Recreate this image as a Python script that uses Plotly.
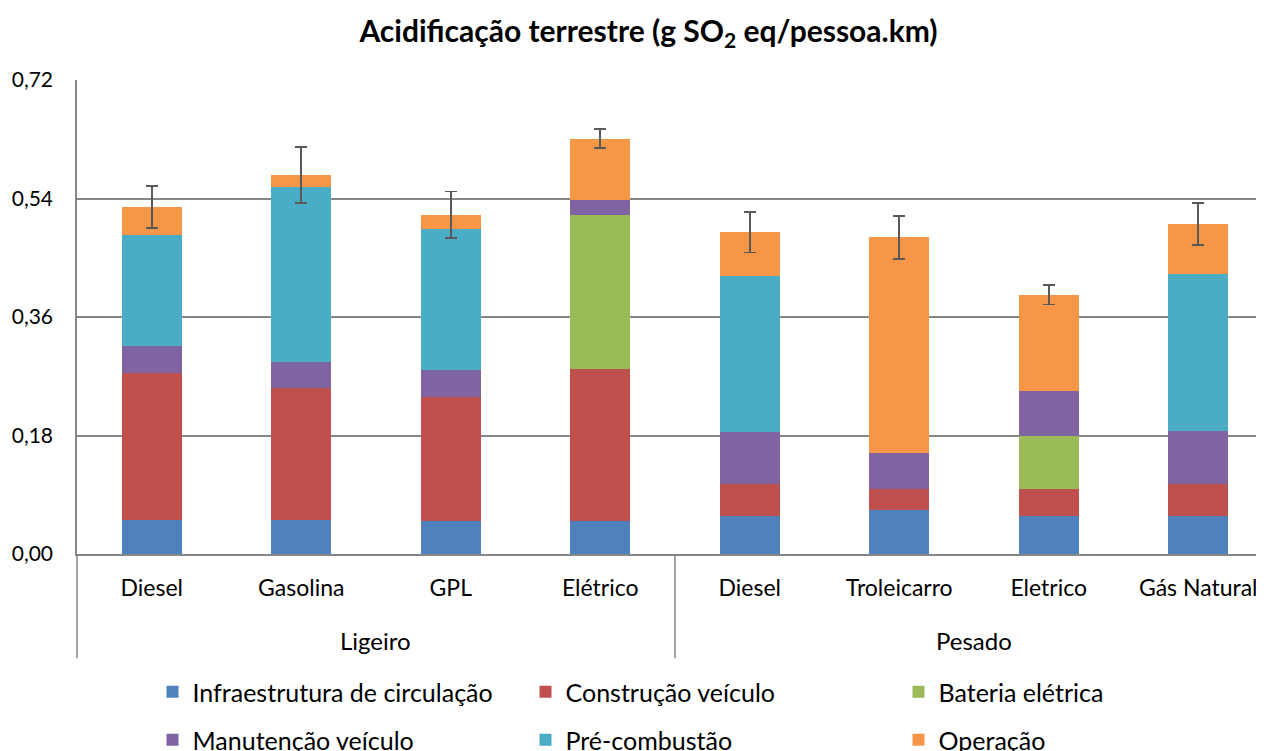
import plotly.graph_objects as go

# categories (two-level axis)
vehicles = ["Diesel", "Gasolina", "GPL", "Elétrico",
            "Diesel", "Troleicarro", "Eletrico", "Gás Natural"]
group_names = ["Ligeiro", "Pesado"]
group_sizes = [4, 4]

# stacked contributions (g SO2 eq/pessoa.km)
infraestrutura = [0.051, 0.051, 0.050, 0.050, 0.058, 0.067, 0.058, 0.058]
construcao = [0.224, 0.201, 0.188, 0.231, 0.048, 0.032, 0.041, 0.049]
bateria = [0.0, 0.0, 0.0, 0.234, 0.0, 0.0, 0.080, 0.0]
manutencao = [0.041, 0.040, 0.041, 0.023, 0.080, 0.054, 0.069, 0.080]
pre_combustao = [0.168, 0.266, 0.214, 0.0, 0.237, 0.0, 0.0, 0.238]
operacao = [0.043, 0.018, 0.022, 0.093, 0.066, 0.328, 0.146, 0.076]
erro = [0.032, 0.0425, 0.0355, 0.014, 0.031, 0.033, 0.015, 0.032]

series = [
    ("Infraestrutura de circulação", infraestrutura, "#4F81BD", "legend"),
    ("Construção veículo", construcao, "#C0504D", "legend"),
    ("Bateria elétrica", bateria, "#9BBB59", "legend"),
    ("Manutenção veículo", manutencao, "#8064A2", "legend2"),
    ("Pré-combustão", pre_combustao, "#4BACC6", "legend2"),
    ("Operação", operacao, "#F79646", "legend2"),
]

FONT = "Lato"
GRID = "#868686"
W, H = 1256, 743  # page body has an 8px margin
pos = list(range(len(vehicles)))

fig = go.Figure()
for name, vals, color, leg in series:
    fig.add_trace(go.Bar(
        x=pos, y=vals, name=name,
        marker=dict(color=color, line=dict(width=0)),
        legend=leg,
    ))

# error bars sit on top of the whole stack
fig.data[-1].error_y = dict(type="data", array=erro, visible=True,
                            color="#595959", thickness=1.8, width=6)

# group labels and dividers under the category labels
div_bottom = -0.22
start = 0
for gname, size in zip(group_names, group_sizes):
    fig.add_annotation(x=start + (size - 1) / 2, y=-0.1835, xref="x", yref="paper",
                       text=gname, showarrow=False, yanchor="middle",
                       font=dict(size=24))
    start += size
    fig.add_shape(type="line", xref="x", yref="paper",
                  x0=start - 0.5, x1=start - 0.5, y0=0, y1=div_bottom,
                  line=dict(color=GRID, width=1.5))
fig.add_shape(type="line", xref="paper", yref="paper", x0=0, x1=0,
              y0=0, y1=div_bottom, line=dict(color=GRID, width=1.5))

fig.update_layout(
    width=W, height=H,
    margin=dict(l=69, r=0, t=72, b=197),
    barmode="stack", bargap=0.6,
    separators=",.",
    plot_bgcolor="white", paper_bgcolor="white",
    font=dict(family=FONT, size=25, color="black"),
    title=dict(text="<b>Acidificação terrestre (g SO<sub>2</sub> eq/pessoa.km)</b>",
               x=640.5 / W, xanchor="center", xref="container",
               y=1 - 23 / H, yanchor="middle",
               font=dict(family=FONT, size=30, color="black")),
    xaxis=dict(range=[-0.5, 7.44], tickmode="array", tickvals=pos, ticktext=vehicles,
               showline=True, linecolor=GRID, linewidth=1.5, showgrid=False,
               zeroline=False, ticks="", tickfont=dict(size=23),
               ticklabelstandoff=13, ticklabeloverflow="allow", automargin=False),
    yaxis=dict(range=[0, 0.72], dtick=0.18, tickformat=".2f",
               showgrid=True, gridcolor=GRID, gridwidth=1.5,
               showline=True, linecolor=GRID, linewidth=1.5,
               zeroline=False, ticks="", tickfont=dict(size=21),
               ticklabelstandoff=18, automargin=False),
    legend=dict(orientation="h", xref="container", yref="container",
                x=144.5 / W, y=1 - 661 / H, xanchor="left", yanchor="top",
                traceorder="normal", entrywidth=328, font=dict(size=25),
                bgcolor="rgba(0,0,0,0)"),
    legend2=dict(orientation="h", xref="container", yref="container",
                 x=144.5 / W, y=1 - 709 / H, xanchor="left", yanchor="top",
                 traceorder="normal", entrywidth=328, font=dict(size=25),
                 bgcolor="rgba(0,0,0,0)"),
)

fig.write_html("out.html")
